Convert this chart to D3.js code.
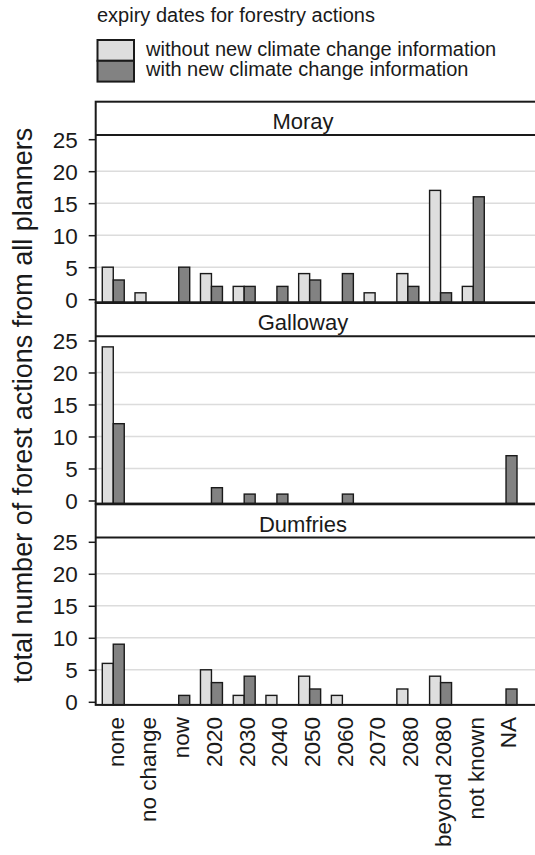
<!DOCTYPE html>
<html>
<head>
<meta charset="utf-8">
<script src="https://cdn.jsdelivr.net/npm/d3@7/dist/d3.min.js"></script>
<style>
  html, body { margin: 0; padding: 0; background: #fff; }
  svg { display: block; }
  text { font-family: "Liberation Sans", Arial, Helvetica, sans-serif; fill: #1a1a1a; }
</style>
</head>
<body>
<svg id="chart" width="535" height="855"></svg>
<script>
// ---- data ----
const categories = ["none", "no change", "now", "2020", "2030", "2040", "2050", "2060", "2070", "2080", "beyond 2080", "not known", "NA"];
const panelNames = ["Moray", "Galloway", "Dumfries"];
const seriesNames = ["without new climate change information", "with new climate change information"];
const legendTitle = "expiry dates for forestry actions";
const yTitle = "total number of forest actions from all planners";
const yTicks = [0, 5, 10, 15, 20, 25];
const gridTicks = [5, 10, 15, 20];

const morayWithout    = [5, 1, 0, 4, 2, 0, 4, 0, 1, 4, 17, 2, 0];
const morayWith       = [3, 0, 5, 2, 2, 2, 3, 4, 0, 2, 1, 16, 0];
const gallowayWithout = [24, 0, 0, 0, 0, 0, 0, 0, 0, 0, 0, 0, 0];
const gallowayWith    = [12, 0, 0, 2, 1, 1, 0, 1, 0, 0, 0, 0, 7];
const dumfriesWithout = [6, 0, 0, 5, 1, 1, 4, 1, 0, 2, 4, 0, 0];
const dumfriesWith    = [9, 0, 1, 3, 4, 0, 2, 0, 0, 0, 3, 0, 2];

const panelData = [
  [morayWithout, morayWith],
  [gallowayWithout, gallowayWith],
  [dumfriesWithout, dumfriesWith]
];

// ---- layout ----
const svg = d3.select("#chart");
const colors = ["#dedede", "#828282"];
const left = 95.7, right = 548;
const firstTop = 101.7, panelStep = 201.3, stripH = 33.2, panelH = 200.6;
const yDomain = [-0.485, 25.67];

const x = d3.scaleBand().domain(categories).range([96.9, 96.9 + 13 * 32.73]).padding(0);
const xSub = d3.scaleBand().domain([0, 1]).range([0, x.bandwidth()]).paddingInner(0).paddingOuter(0.49);

// legend
svg.append("text").attr("x", 97).attr("y", 22).attr("font-size", 20).text(legendTitle);
seriesNames.forEach((s, i) => {
  svg.append("rect").attr("x", 97.5).attr("y", 40 + i * 20.8).attr("width", 36.5).attr("height", 20.8)
    .attr("fill", colors[i]).attr("stroke", "#1a1a1a").attr("stroke-width", 2);
  svg.append("text").attr("x", 146).attr("y", 56 + i * 20.2).attr("font-size", 20).text(s);
});

// panels
panelNames.forEach((name, p) => {
  const top = firstTop + p * panelStep;
  const y = d3.scaleLinear().domain(yDomain).range([top + panelH, top + stripH]);
  const g = svg.append("g");

  // grid
  g.selectAll("line.grid").data(gridTicks).join("line")
    .attr("x1", left).attr("x2", right)
    .attr("y1", d => y(d)).attr("y2", d => y(d))
    .attr("stroke", "#dcdcdc").attr("stroke-width", 1.5);

  // bars
  panelData[p].forEach((vals, s) => {
    g.selectAll("rect.s" + s).data(categories.map((c, i) => ({c, v: vals[i]})).filter(d => d.v > 0)).join("rect")
      .attr("x", d => x(d.c) + xSub(s))
      .attr("width", xSub.bandwidth())
      .attr("y", d => y(d.v))
      .attr("height", d => y(yDomain[0]) - y(d.v))
      .attr("fill", colors[s]).attr("stroke", "#1a1a1a").attr("stroke-width", 1.4);
  });

  // frame
  g.append("rect").attr("x", left).attr("y", top).attr("width", right - left).attr("height", panelH)
    .attr("fill", "none").attr("stroke", "#1a1a1a").attr("stroke-width", 2);
  g.append("line").attr("x1", left).attr("x2", right).attr("y1", top + stripH).attr("y2", top + stripH)
    .attr("stroke", "#1a1a1a").attr("stroke-width", 2);
  g.append("text").attr("x", 303).attr("y", top + stripH - 6).attr("text-anchor", "middle")
    .attr("font-size", 22).text(name);

  // y axis
  const ax = g.append("g").attr("transform", `translate(${left},0)`)
    .call(d3.axisLeft(y).tickValues(yTicks).tickSize(7).tickPadding(11).tickFormat(d3.format("d")));
  ax.select(".domain").remove();
  ax.selectAll(".tick line").attr("stroke", "#1a1a1a").attr("stroke-width", 1.5);
  ax.selectAll(".tick text").attr("font-size", 22.5).attr("font-family", "Liberation Sans, Arial, sans-serif")
    .attr("fill", "#1a1a1a").attr("dy", "0.36em");
});

// x labels
const bottom = firstTop + 2 * panelStep + panelH;
svg.append("g").selectAll("text").data(categories).join("text")
  .attr("transform", d => `translate(${x(d) + x.bandwidth() / 2},${bottom + 12}) rotate(-90)`)
  .attr("text-anchor", "end").attr("dy", "0.46em").attr("font-size", 22.5).text(d => d);

// y title
svg.append("text")
  .attr("transform", `translate(32,${(firstTop + bottom) / 2 + 2}) rotate(-90)`)
  .attr("text-anchor", "middle").attr("font-size", 27).text(yTitle);
</script>
</body>
</html>
